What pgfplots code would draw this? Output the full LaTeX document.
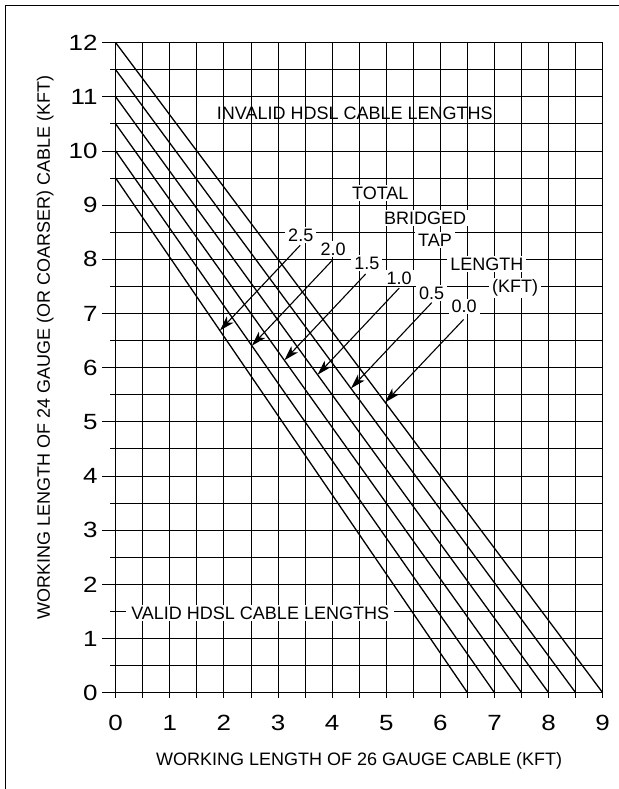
\documentclass[border=0pt]{standalone}
\usepackage{pgfplots}
\pgfplotsset{compat=1.18}
\usepackage{fontspec}
\setmainfont{Liberation Sans}
\newfontfamily\tickfont[FakeStretch=1.18]{Liberation Sans}
\usetikzlibrary{arrows.meta}

\begin{document}
\begin{tikzpicture}
\useasboundingbox (-115.7pt,-96.3pt) rectangle (502.3pt,692.7pt);
\draw[line width=1pt] (-109.7pt,-100pt) -- (-109.7pt,686.7pt) -- (510pt,686.7pt);
\begin{axis}[
  at={(0,0)}, anchor=south west,
  scale only axis, width=487pt, height=650pt,
  xmin=0, xmax=9, ymin=0, ymax=12,
  xtick={0,...,9}, ytick={0,...,12},
  minor xtick={0.5,1.5,...,8.5}, minor ytick={0.5,1.5,...,11.5},
  grid=both,
  major grid style={black, line width=0.9pt},
  minor grid style={black, line width=0.9pt},
  tick style={draw=none},
  axis line style={black, line width=1.5pt},
  /pgf/number format/assume math mode=true,
  ticklabel style={font=\tickfont\fontsize{22}{24}\selectfont, inner sep=0pt},
  yticklabel style={anchor=east, xshift=-18pt},
  xticklabel style={anchor=north, yshift=-22pt},
  label style={font=\fontsize{18}{20}\selectfont},
  xlabel={WORKING LENGTH OF 26 GAUGE CABLE (KFT)},
  ylabel={WORKING LENGTH OF 24 GAUGE (OR COARSER) CABLE (KFT)},
  xlabel style={at={(axis description cs:0.5,-0.112)}, anchor=base},
  ylabel style={at={(axis description cs:-0.1349,0.531)}, anchor=base},
  clip=false,
]
% outward tick marks
\pgfplotsinvokeforeach{0,...,12}{\draw[black,line width=0.9pt] (axis cs:0,#1) -- ++(-14pt,0);}
\pgfplotsinvokeforeach{0.5,1.5,...,11.5}{\draw[black,line width=0.9pt] (axis cs:0,#1) -- ++(-6pt,0);}
\pgfplotsinvokeforeach{0,0.5,...,9}{\draw[black,line width=0.9pt] (axis cs:#1,0) -- ++(0,-5pt);}

% bridged tap lines
\addplot[black, line width=1.3pt] coordinates {(0,12) (9,0)};
\addplot[black, line width=1.3pt] coordinates {(0,11.5) (8.5,0)};
\addplot[black, line width=1.3pt] coordinates {(0,11) (8,0)};
\addplot[black, line width=1.3pt] coordinates {(0,10.5) (7.5,0)};
\addplot[black, line width=1.3pt] coordinates {(0,10) (7,0)};
\addplot[black, line width=1.3pt] coordinates {(0,9.5) (6.5,0)};

% arrows
\tikzset{arr/.style={-{Stealth[length=15pt,width=9pt,inset=4pt]}, line width=1.1pt}}
\draw[arr] (axis cs:3.41,8.26) -- (axis cs:1.925,6.686);
\draw[arr] (axis cs:4.01,7.99) -- (axis cs:2.516,6.406);
\draw[arr] (axis cs:4.62,7.73) -- (axis cs:3.117,6.137);
\draw[arr] (axis cs:5.24,7.47) -- (axis cs:3.731,5.870);
\draw[arr] (axis cs:5.84,7.20) -- (axis cs:4.348,5.618);
\draw[arr] (axis cs:6.43,6.89) -- (axis cs:4.98,5.36);

% labels
\tikzset{lab/.style={font=\fontsize{18}{20}\selectfont, fill=white, inner xsep=3pt, inner ysep=1.5pt}}
\node[font=\fontsize{18}{20}\selectfont] at (axis cs:4.42,10.70) {INVALID HDSL CABLE LENGTHS};
\node[lab, inner xsep=5pt] at (axis cs:2.67,1.47) {VALID HDSL CABLE LENGTHS};
\node[lab] at (axis cs:4.89,9.22) {TOTAL};
\node[lab] at (axis cs:5.72,8.76) {BRIDGED};
\node[lab] at (axis cs:5.90,8.36) {TAP};
\node[lab] at (axis cs:6.86,7.91) {LENGTH};
\node[lab] at (axis cs:7.38,7.47) {(KFT)};
\node[lab] at (axis cs:3.42,8.45) {2.5};
\node[lab] at (axis cs:4.02,8.19) {2.0};
\node[lab] at (axis cs:4.64,7.93) {1.5};
\node[lab] at (axis cs:5.24,7.65) {1.0};
\node[lab] at (axis cs:5.84,7.38) {0.5};
\node[lab] at (axis cs:6.44,7.13) {0.0};
\end{axis}
\end{tikzpicture}
\end{document}
